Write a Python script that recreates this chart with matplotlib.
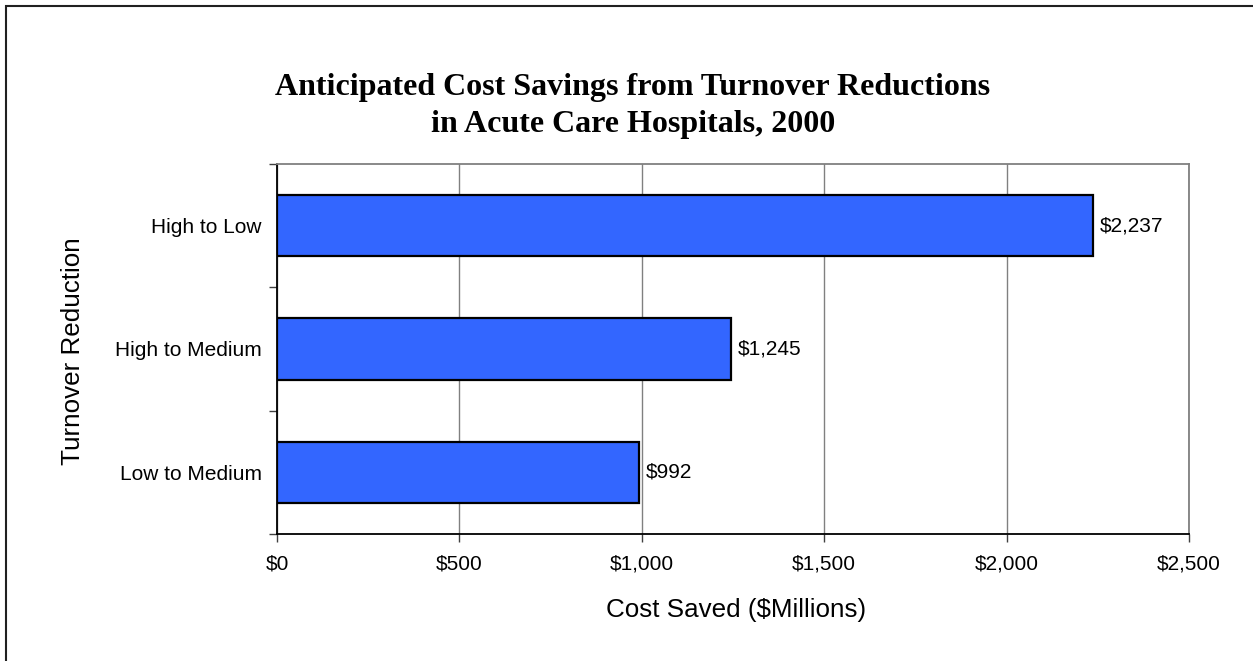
import matplotlib
matplotlib.use('Agg')
import matplotlib.pyplot as plt
from matplotlib import font_manager
from matplotlib.patches import Rectangle

categories = ['Low to Medium', 'High to Medium', 'High to Low']
values = [992, 1245, 2237]
xticks = [0, 500, 1000, 1500, 2000, 2500]
title = 'Anticipated Cost Savings from Turnover Reductions\nin Acute Care Hospitals, 2000'
xlabel = 'Cost Saved ($Millions)'
ylabel = 'Turnover Reduction'

names = {f.name for f in font_manager.fontManager.ttflist}
if 'Liberation Sans Narrow' in names:
    sans = 'Liberation Sans Narrow'
    k = 1.0
else:
    sans = 'Liberation Sans'
    k = 0.82
tick_fs = 18.3 * k
label_fs = 22.8 * k

W, H = 1253, 661
fig = plt.figure(figsize=(W / 100, H / 100), dpi=100)
fig.patches.append(Rectangle((6 / W, -0.1), 1.2, 1 - 6 / H + 0.1, transform=fig.transFigure,
                             fill=False, edgecolor='#202020', linewidth=1.5))

ax = fig.add_axes([277 / W, 1 - 534 / H, (1189 - 277) / W, (534 - 164) / H])
ypos = list(range(len(categories)))
ax.barh(ypos, values, height=0.495, color='#3366FF', edgecolor='black', linewidth=1.6, zorder=3)
ax.set_xlim(0, 2500)
ax.set_ylim(-0.5, 2.5)
ax.set_xticks(xticks)
ax.set_xticklabels([f'${v:,}' for v in xticks], fontsize=tick_fs, family=sans)
ax.xaxis.grid(True, color='#808080', linewidth=1.0, zorder=0)
ax.set_yticks([-0.5, 0.5, 1.5, 2.5])
ax.set_yticklabels([])
ax.set_yticks(ypos, minor=True)
ax.set_yticklabels(categories, minor=True, fontsize=tick_fs, family=sans)
ax.tick_params(axis='y', which='minor', length=0, pad=11)
ax.tick_params(axis='y', which='major', length=6, width=1, color='#404040', direction='out')
ax.tick_params(axis='x', length=6, width=1, color='#404040', direction='out', pad=9)
for s in ['left', 'bottom']:
    ax.spines[s].set_color('black')
    ax.spines[s].set_linewidth(1.3)
for s in ['top', 'right']:
    ax.spines[s].set_color('#808080')
    ax.spines[s].set_linewidth(1.3)

for yv, v in zip(ypos, values):
    ax.annotate(f'${v:,}', xy=(v, yv), xytext=(5, 0), textcoords='offset points',
                ha='left', va='center', fontsize=tick_fs, family=sans)

fig.text(736 / W, 1 - 610 / H, xlabel, ha='center', va='center', fontsize=label_fs, family=sans)
fig.text(73 / W, 1 - 351 / H, ylabel, ha='center', va='center', rotation=90, fontsize=label_fs, family=sans)
fig.text(633 / W, 1 - 106 / H, title, ha='center', va='center', fontsize=23,
         family='Liberation Serif', fontweight='bold', linespacing=1.32)

fig.savefig('out.png', dpi=100)
